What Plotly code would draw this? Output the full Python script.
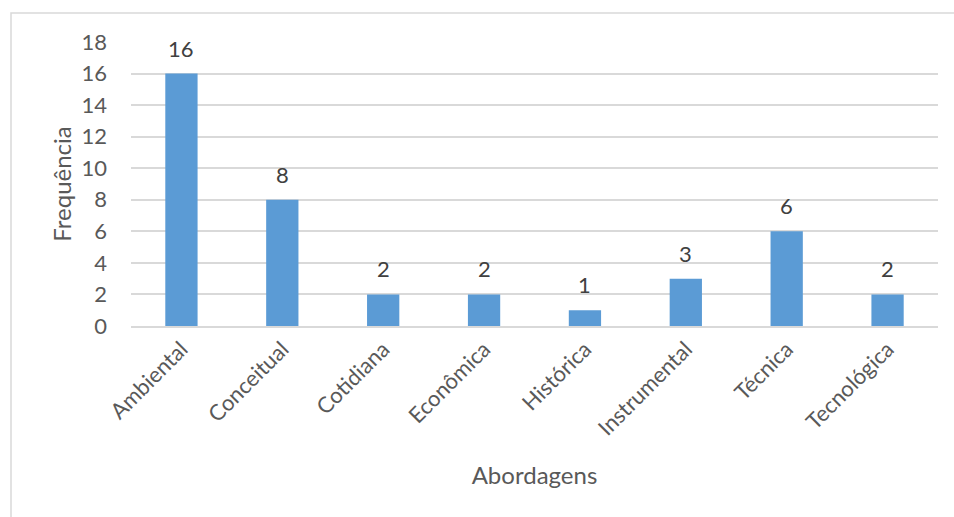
import plotly.graph_objects as go

categories = ["Ambiental", "Conceitual", "Cotidiana", "Econômica", "Histórica", "Instrumental", "Técnica", "Tecnológica"]
values = [16, 8, 2, 2, 1, 3, 6, 2]
y_ticks = [0, 2, 4, 6, 8, 10, 12, 14, 16, 18]

FONT = "Lato"
TXT = "#595959"
GRID = "#D9D9D9"

W, H = 954, 517
L, R, T, B = 131, 954 - 938, 42, 517 - 326.5

fig = go.Figure(go.Bar(x=categories, y=values, marker=dict(color="#5B9BD5", line=dict(width=0)),
                       width=0.32, hoverinfo="skip"))

for c, v in zip(categories, values):
    fig.add_annotation(x=c, y=v, text=str(v), showarrow=False, yanchor="bottom", yshift=10,
                       font=dict(family=FONT, size=22, color="#404040"))

pw = W - L - R
ph = H - T - B
fig.add_shape(type="rect", xref="paper", yref="paper",
              x0=(11 - L) / pw, x1=(960 - L) / pw,
              y0=(H - B - 530) / ph, y1=(H - B - 13) / ph,
              line=dict(color=GRID, width=1.5), fillcolor="rgba(0,0,0,0)", layer="below")

fig.update_layout(
    width=W, height=H, margin=dict(l=L, r=R, t=T, b=B, pad=0),
    paper_bgcolor="white", plot_bgcolor="white", showlegend=False,
    font=dict(family=FONT, size=22, color=TXT),
    xaxis=dict(tickangle=-45, showgrid=False, showline=True, linecolor=GRID, linewidth=1.5,
               ticks="", title=dict(text="Abordagens", font=dict(size=24, color=TXT), standoff=28),
               tickfont=dict(size=22, color=TXT)),
    yaxis=dict(range=[0, 18], tickvals=y_ticks, showgrid=True, gridcolor=GRID, gridwidth=1.5,
               zeroline=False, showline=False, ticks="", ticklabelstandoff=23,
               tickfont=dict(size=22, color=TXT),
               title=dict(text="Frequência", font=dict(size=24, color=TXT), standoff=3)),
)

fig.write_html("out.html")
